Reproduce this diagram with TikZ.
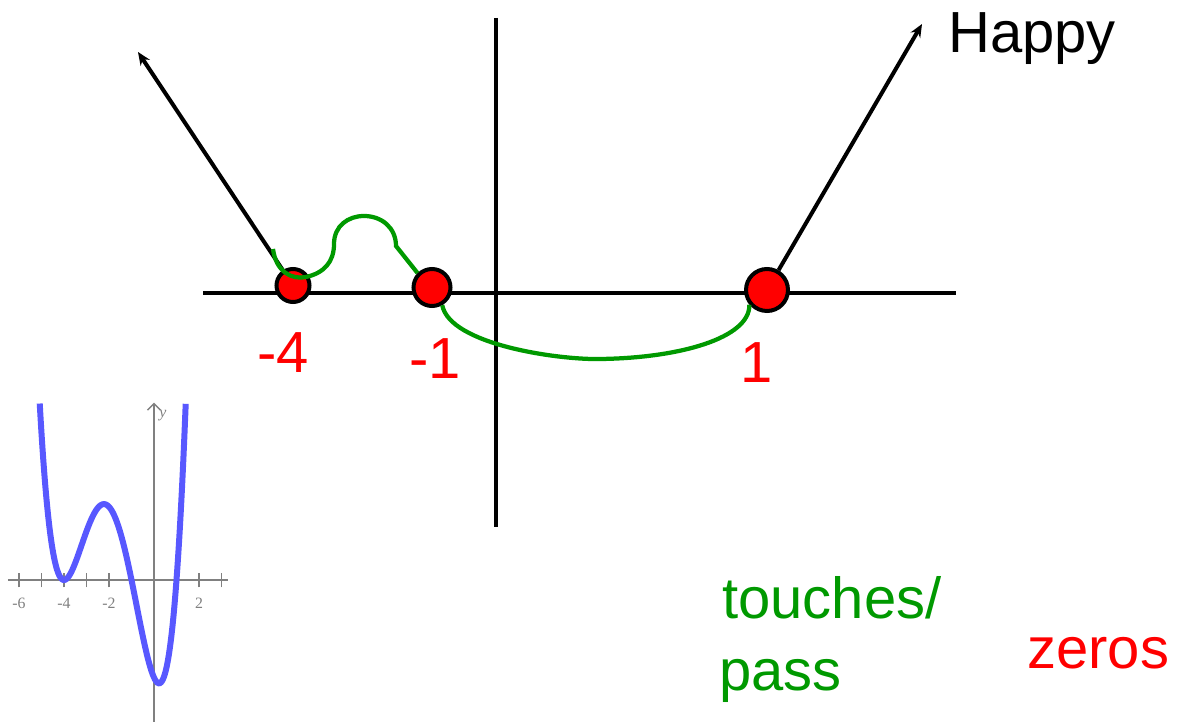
\documentclass[tikz,border=0pt]{standalone}
\usepackage{fontspec}
\setmainfont{Liberation Sans}
\newfontfamily\plotfont{Liberation Serif}
\usetikzlibrary{positioning,arrows.meta}
\definecolor{tgreen}{RGB}{0,153,0}
\definecolor{pblue}{RGB}{88,88,255}
\definecolor{agray}{RGB}{128,128,128}

\begin{document}
\begin{tikzpicture}[x=0.02cm, y=-0.02cm, >={Stealth[length=2.6mm,width=2.2mm]},
  zero/.style={draw,circle,fill=red,line width=0.08cm,inner sep=0pt},
  ax/.style={line width=0.08cm}, tp/.style={tgreen,line width=0.085cm},
  big/.style={font=\fontsize{33}{40}\selectfont,inner sep=0pt,anchor=base west}]
  \useasboundingbox (0,0) rectangle (1183,722);
  \draw[ax] (203,293) -- (956,293);
  \draw[ax] (496,18) -- (496,527);
  \coordinate (lt) at (138,52); \coordinate (rt) at (922,24);
  \node[zero,minimum size=0.66cm] (z4) at (293,285.5) {};
  \node[zero,minimum size=0.74cm] (z1) at (432,287.5) {};
  \node[zero,minimum size=0.84cm] (zp) at (767,290) {};
  \draw[ax,->] (z4) -- (lt);
  \draw[ax,->] (zp) -- (rt);
  \draw[tp] (273,249) .. controls (276,272) and (292,280) .. (306,277) .. controls (324,273) and (334,262) .. (334,244)
    .. controls (334,226) and (348,216) .. (364,216) .. controls (382,216) and (396,228) .. (396,246) -- (z1.135);
  \draw[tp] (z1.-60) .. controls (450,345) and (560,360) .. (600,359) .. controls (680,358) and (750,338) .. (zp.-140);
  \node[big] (hap) at (948,53) {Happy};
  \node[big,red] (l4) at (257,373) {-4};
  \node[big,red] (l1) at (409,379) {-1};
  \node[big,red] (lp) at (740,383) {1};
  \node[big,tgreen] (tch) at (722,618) {touches/};
  \node[big,tgreen] (pas) at (719,690) {pass};
  \node[big,red] (zer) at (1027,668) {zeros};
  \begin{scope}[shift={(154,580)},x=0.45cm,y=0.122cm,font=\plotfont\fontsize{9}{11}\selectfont]
    \draw[agray,line width=0.04cm] (-6.5,0) -- (3.3,0);
    \foreach \t in {-6,...,3} \draw[agray,line width=0.03cm] (\t,-1.2) -- (\t,1.2);
    \foreach \t in {-6,-4,-2,2} \node[agray,anchor=base,inner sep=0pt] at (\t,-4.75) {\t};
    \draw[agray,line width=0.03cm,-{Straight Barb[length=1.3mm,width=2.6mm]}] (0,-23.3) -- (0,29.1);
    \node[agray,anchor=west,inner sep=0pt] (ylab) at (0.22,27) {\itshape y};
    \draw[pblue,line width=0.12cm,smooth,samples=120,domain=-5.08:1.41] plot (\x,{(\x+4)^2*(\x*\x-1)});
  \end{scope}
\end{tikzpicture}
\end{document}
